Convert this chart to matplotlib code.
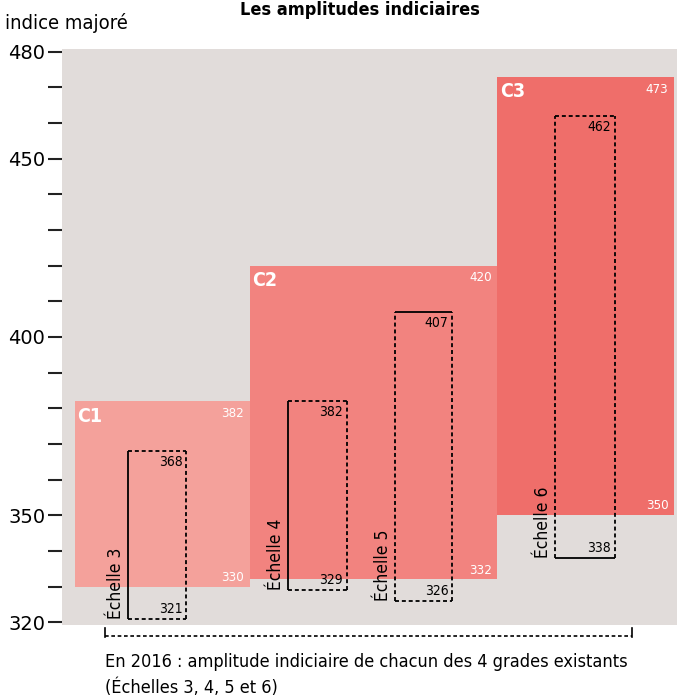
import matplotlib.pyplot as plt

# ── Données ────────────────────────────────────────────────────────────────
grades       = ['C1', 'C2', 'C3']
grade_min    = [330, 332, 350]
grade_max    = [382, 420, 473]

echelles     = ['Échelle 3', 'Échelle 4', 'Échelle 5', 'Échelle 6']
echelle_min  = [321, 329, 326, 338]
echelle_max  = [368, 382, 407, 462]

yticks_major = [320, 350, 400, 450, 480]

# ── Mise en page (x en % de la largeur des axes) ──────────────────────────
grade_x   = [(2.1, 30.5), (30.5, 70.8), (70.8, 99.5)]
echelle_x = [(10.7, 20.2), (36.7, 46.3), (54.1, 63.4), (80.2, 89.9)]
cote_plein = ['left', 'left', 'top', 'bottom']   # côté en trait plein

COR_FUNDO = '#e1dcda'
COR_GRADES = ['#f4a19b', '#f2837f', '#ef6e6a']
plt.rcParams['font.family'] = ['DejaVu Sans']
plt.rcParams['font.stretch'] = 'condensed'

fig = plt.figure(figsize=(6.77, 6.97), dpi=100)
ax = fig.add_axes([62 / 677, 72 / 697, 615 / 677, 576 / 697])
ax.set_facecolor(COR_FUNDO)
ax.set_xlim(0, 100)
ax.set_ylim(319.2, 480.8)

# ── Grades (rectangles colorés) ────────────────────────────────────────────
for nom, lo, hi, (x0, x1), cor in zip(grades, grade_min, grade_max, grade_x, COR_GRADES):
    ax.fill_between([x0, x1], lo, hi, color=cor, lw=0, zorder=1)
    ax.text(x0 + 0.4, hi - 1.5, nom, color='white', fontsize=14, fontweight='bold',
            ha='left', va='top', zorder=3)
    ax.text(x1 - 0.9, hi - 1.6, str(hi), color='white', fontsize=9.5,
            ha='right', va='top', zorder=3)
    ax.text(x1 - 0.9, lo + 0.8, str(lo), color='white', fontsize=9.5,
            ha='right', va='bottom', zorder=3)

# ── Échelles (boîtes pointillées) ──────────────────────────────────────────
for nom, lo, hi, (x0, x1), plein in zip(echelles, echelle_min, echelle_max, echelle_x, cote_plein):
    cotes = {'left': ([x0, x0], [lo, hi]), 'right': ([x1, x1], [lo, hi]),
             'top': ([x0, x1], [hi, hi]), 'bottom': ([x0, x1], [lo, lo])}
    for cote, (xs, ys) in cotes.items():
        ls = '-' if cote == plein else (0, (2.2, 1.6))
        ax.plot(xs, ys, color='black', lw=1.3, ls=ls, zorder=4, solid_capstyle='butt')
    ax.text(x1 - 0.6, hi - 1.0, str(hi), fontsize=10, ha='right', va='top', zorder=5)
    ax.text(x1 - 0.6, lo + 0.8, str(lo), fontsize=10, ha='right', va='bottom', zorder=5)
    ax.text(x0 - 0.5, lo, nom, fontsize=12.5, rotation=90, ha='right', va='bottom', zorder=5)

# ── Axes ───────────────────────────────────────────────────────────────────
for spine in ax.spines.values():
    spine.set_visible(False)
ax.set_xticks([])
ax.set_yticks(list(range(320, 481, 10)))
ax.set_yticklabels([str(v) if v in yticks_major else '' for v in range(320, 481, 10)])
ax.tick_params(axis='y', direction='out', length=10, width=1.5, pad=2,
               labelsize=14, color='#222222')
for lab in ax.get_yticklabels():
    lab.set_fontstretch('normal')

fig.text(5 / 677, 1 - 23 / 697, 'indice majoré', fontsize=14.5, va='center', ha='left')
fig.text(360 / 677, 1 - 1 / 697, 'Les amplitudes indiciaires', fontsize=13,
         fontweight='bold', ha='center', va='top')

# ── Accolade du bas ────────────────────────────────────────────────────────
bx0, bx1 = 7.0, 92.7
ax.plot([bx0, bx1], [316.0, 316.0], color='black', lw=1.2, ls=(0, (2.2, 1.6)),
        clip_on=False)
for bx in (bx0, bx1):
    ax.plot([bx, bx], [315.8, 318.3], color='black', lw=1.2, clip_on=False)

fig.text(105 / 677, 1 - 662 / 697,
         'En 2016 : amplitude indiciaire de chacun des 4 grades existants',
         fontsize=13, va='center', ha='left')
fig.text(105 / 677, 1 - 688 / 697, '(Échelles 3, 4, 5 et 6)',
         fontsize=13, va='center', ha='left')

fig.savefig('out.png', dpi=100, facecolor='white')
